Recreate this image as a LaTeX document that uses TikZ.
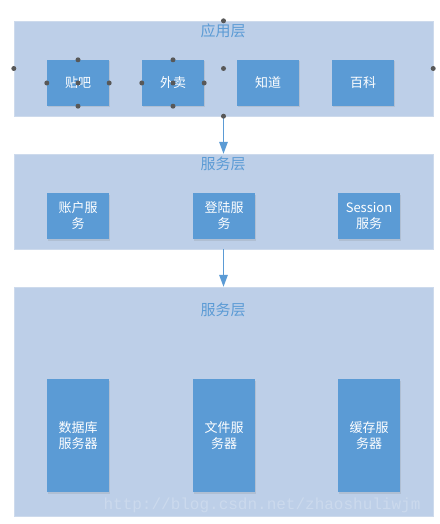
\documentclass[tikz,border=0pt]{standalone}
\usepackage{fontspec}
\setmainfont{Noto Sans CJK SC}
\setmonofont{Liberation Mono}
\usepackage{tikz}
\usetikzlibrary{arrows.meta,shapes,positioning,shadows}
\usepackage{xcolor}
\definecolor{lyblue}{RGB}{91,155,213}
\definecolor{lylight}{RGB}{189,207,232}
\definecolor{lyedge}{RGB}{205,218,236}
\definecolor{lyhandle}{RGB}{88,88,88}
\tikzstyle{arrow} = [line width=1.5pt,-{Triangle[length=12pt,width=8.5pt]},color=lyblue]
\tikzstyle{layer} = [rectangle,fill=lylight,draw=lyedge,minimum width=419pt,inner sep=0pt]
\tikzstyle{block} = [rectangle,fill=lyblue,text=white,minimum width=62pt,minimum height=46pt,inner sep=0pt,align=center,font=\fontsize{13}{16}\selectfont,drop shadow={shadow xshift=1pt,shadow yshift=-1.5pt,opacity=0.2}]
\tikzstyle{title} = [text=lyblue,font=\fontsize{15}{18}\selectfont]
\tikzstyle{handle} = [fill=lyhandle]

\begin{document}
\begin{tikzpicture}[x=1pt,y=-1pt]
\useasboundingbox (0,0) rectangle (439,524);

% Layers
\node[layer, minimum height=95pt] (app) at (223.5,68.5) {};
\node[layer, minimum height=95pt] (svc) at (223.5,201.5) {};
\node[layer, minimum height=229pt] (base) at (223.5,401.5) {};

% Titles
\node[title] (appT) at (223,31) {应用层};
\node[title] (svcT) at (223,164) {服务层};
\node[title] (baseT) at (223,310) {服务层};

% Application blocks
\node[block] (tieba) at (78,83) {贴吧};
\node[block] (waimai) at (173,83) {外卖};
\node[block] (zhidao) at (268,83) {知道};
\node[block] (baike) at (363,83) {百科};

% Service blocks
\node[block] (account) at (78,216) {账户服\\务};
\node[block] (login) at (224,216) {登陆服\\务};
\node[block] (session) at (369,216) {Session\\服务};

% Server blocks
\node[block, minimum height=113pt] (db) at (78,435.5) {数据库\\服务器};
\node[block, minimum height=113pt] (file) at (224,435.5) {文件服\\务器};
\node[block, minimum height=113pt] (cache) at (369,435.5) {缓存服\\务器};

% Arrows
\draw[arrow] (app.south) -- (svc.north);
\draw[arrow] (svc.south) -- (base.north);

% Selection handles
\foreach \n in {app,tieba,waimai}
  \foreach \a in {north,south,east,west,center}
    \fill[handle] (\n.\a) circle (2.5pt);

% Watermark
\node[font=\ttfamily\fontsize{16}{18}\selectfont, text=white, opacity=0.22] (mark) at (262,505) {http://blog.csdn.net/zhaoshuliwjm};
\end{tikzpicture}
\end{document}
